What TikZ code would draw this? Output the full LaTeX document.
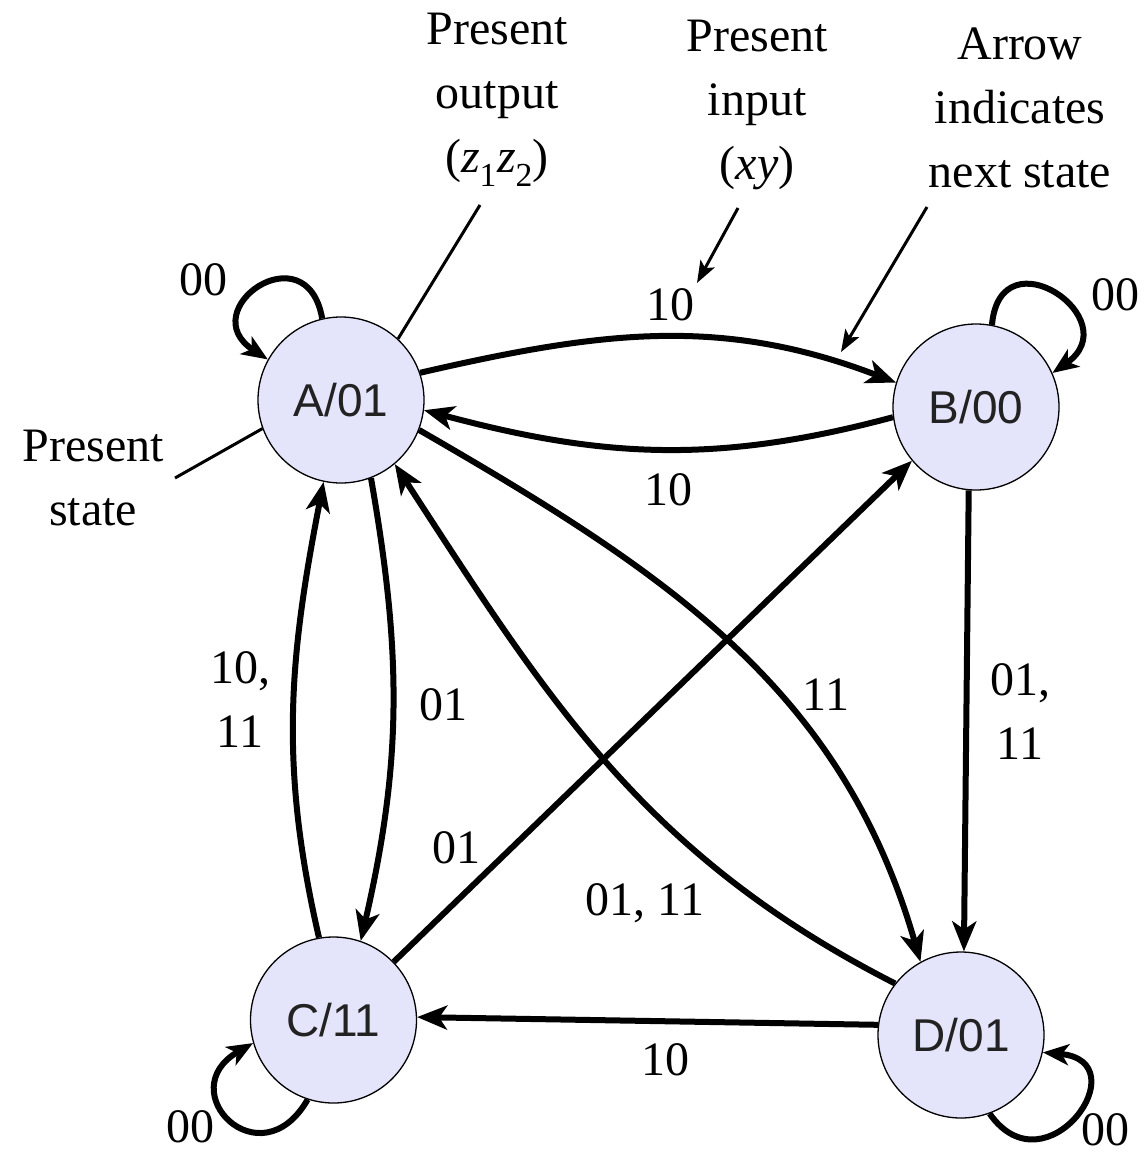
\documentclass[tikz,border=0pt]{standalone}
\usepackage{fontspec}
\setmainfont{Liberation Serif}
\newfontfamily\nodefont{Liberation Sans}
\usetikzlibrary{arrows.meta}
\definecolor{statefill}{RGB}{228,228,250}
\definecolor{statetext}{RGB}{34,34,34}
\begin{document}
\begin{tikzpicture}[x=1pt,y=1pt,
  state/.style={circle, draw=black, line width=1.3pt, fill=statefill, minimum size=166pt, inner sep=0pt, font=\nodefont\fontsize{46}{46}\selectfont, text=statetext},
  edge/.style={line width=6pt, -{Stealth[length=30pt,width=24pt,inset=8pt]}},
  loopedge/.style={line width=6pt, -{Stealth[length=26pt,width=21pt,inset=7pt]}},
  lbl/.style={font=\fontsize{48}{64}\selectfont, inner sep=0pt, align=center},
  annot/.style={line width=3pt},
  annotarrow/.style={line width=3pt, -{Stealth[length=22pt,width=16pt,inset=5pt]}}]
\useasboundingbox (0,0) rectangle (1145,-1154);
% states
\node[state] (A) at (341,-400) {A/01};
\node[state] (B) at (976,-407) {B/00};
\node[state] (C) at (333.5,-1020) {C/11};
\node[state] (D) at (961,-1035) {D/01};
% transitions
\draw[edge] (A.19) to[out=13,in=159] (B.163);
\draw[edge] (B.187) to[out=195,in=-15] (A.-7);
\draw[edge] (C.100) to[out=103,in=259] (A.258);
\draw[edge] (A.291) to[out=280,in=77] (C.71);
\draw[edge] (C.44) -- (B.220);
\draw[edge] (A.-21) to[out=-30,in=106] (D.119);
\draw[edge] (D.142) to[out=153,in=-57] (A.-50);
\draw[edge] (B.265) -- (D.88);
\draw[edge] (D.173) -- (C.2);
% self loops
\draw[loopedge] (A.103) to[out=100,in=147,looseness=3.4] (A.151);
\draw[loopedge] (B.79) to[out=85,in=35,looseness=3.1] (B.24);
\draw[loopedge] (C.252) to[out=240,in=210,looseness=3.1] (C.196);
\draw[loopedge] (D.-70) to[out=-55,in=-5,looseness=3.1] (D.-12);
% transition labels
\node[lbl] (l1) at (670,-305) {10};
\node[lbl] (l2) at (668,-490) {10};
\node[lbl] (l3) at (240,-700) {10,\\11};
\node[lbl] (l4) at (443,-705) {01};
\node[lbl] (l5) at (456,-848) {01};
\node[lbl] (l6) at (826,-695) {11};
\node[lbl] (l7) at (645,-903) {01, 11};
\node[lbl] (l8) at (1020,-712) {01,\\11};
\node[lbl] (l9) at (665,-1060) {10};
\node[lbl] (la) at (203,-280) {00};
\node[lbl] (lb) at (1115,-295) {00};
\node[lbl] (lc) at (190,-1127) {00};
\node[lbl] (ld) at (1105,-1130) {00};
% annotations
\node[lbl] (po) at (497,-100) {Present\\output\\(\textit{z}\textsubscript{1}\textit{z}\textsubscript{2})};
\node[lbl] (pi) at (757,-105) {Present\\input\\(\textit{xy})};
\node[lbl] (an) at (1020,-108) {Arrow\\indicates\\next state};
\node[lbl] (ps) at (93,-478) {Present\\state};
\coordinate (poend) at (480,-205);
\draw[annot] (poend) -- (A.47);
\coordinate (pistart) at (738,-208);
\coordinate (piend) at (697,-283);
\draw[annotarrow] (pistart) -- (piend);
\coordinate (anstart) at (927,-207);
\coordinate (anend) at (841,-352);
\draw[annotarrow] (anstart) -- (anend);
\coordinate (psend) at (175,-478);
\draw[annot] (psend) -- (A.200);
\end{tikzpicture}
\end{document}
